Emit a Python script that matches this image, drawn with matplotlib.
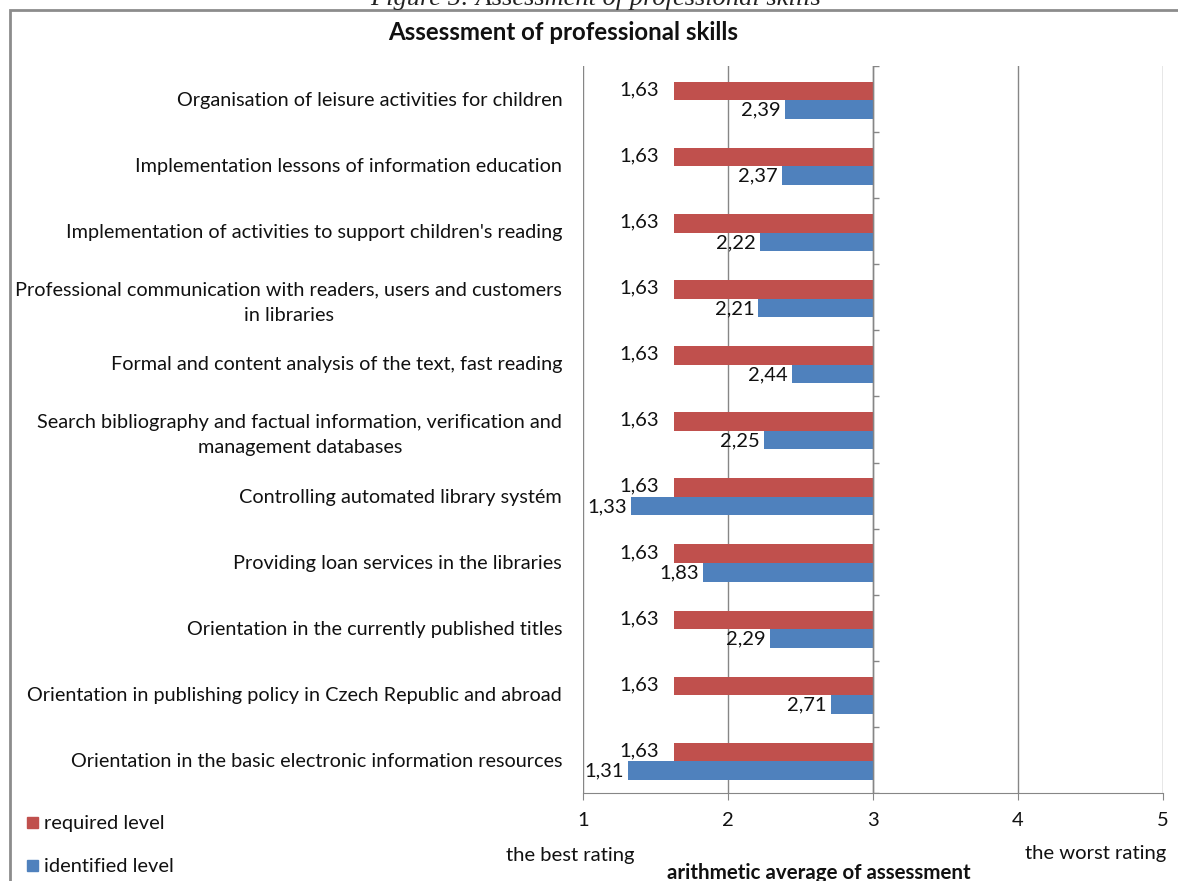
import matplotlib
matplotlib.use("Agg")
import matplotlib.pyplot as plt
from matplotlib.patches import Rectangle
import numpy as np

plt.rcParams['font.family'] = ['Lato', 'DejaVu Sans']

skills = [
    "Organisation of leisure activities for children",
    "Implementation lessons of information education",
    "Implementation of activities to support children's reading",
    "Professional communication with readers, users and customers\nin libraries",
    "Formal and content analysis of the text, fast reading",
    "Search bibliography and factual information, verification and\nmanagement databases",
    "Controlling automated library systém",
    "Providing loan services in the libraries",
    "Orientation in the currently published titles",
    "Orientation in publishing policy in Czech Republic and abroad",
    "Orientation in the basic electronic information resources",
]
required_level = [1.63, 1.63, 1.63, 1.63, 1.63, 1.63, 1.63, 1.63, 1.63, 1.63, 1.63]
identified_level = [2.39, 2.37, 2.22, 2.21, 2.44, 2.25, 1.33, 1.83, 2.29, 2.71, 1.31]
x_ticks = [1, 2, 3, 4, 5]

RED = "#C0504D"
BLUE = "#4F81BD"
GRID = "#868686"
TXT = "#111111"
W, H = 1178, 881

fig = plt.figure(figsize=(W / 100, H / 100), dpi=100)
ax = fig.add_axes([583 / W, 1 - 793 / H, 580 / W, 727 / H])

base = 3.0
y = np.arange(len(skills))
h = 0.28
req = np.array(required_level)
ide = np.array(identified_level)

ax.barh(y - h / 2 + 0.02, req - base, left=base, height=h, color=RED, zorder=3)
ax.barh(y + h / 2 + 0.02, ide - base, left=base, height=h, color=BLUE, zorder=3)

ax.set_xlim(1, 5)
ax.set_ylim(len(skills) - 0.5, -0.5)

# value labels, placed just left of each bar's end
lbl = dict(fontsize=14.5, color=TXT, ha="right", va="center", zorder=4)
for yi, v in zip(y, req):
    ax.annotate(f"{v:.2f}".replace(".", ","), (v, yi - h / 2),
                xytext=(-11, 0), textcoords="offset points", **lbl)
for yi, v in zip(y, ide):
    ax.annotate(f"{v:.2f}".replace(".", ","), (v, yi + h / 2 + 0.03),
                xytext=(-3, 0), textcoords="offset points", **lbl)

# grid and axis lines
for xv in x_ticks:
    ax.axvline(xv, color=GRID, lw=1, zorder=1)
ax.axvline(base, color=GRID, lw=1, zorder=5)
for b in np.arange(-0.5, len(skills) + 0.5, 1.0):
    ax.plot([base, base + 0.04], [b, b], color=GRID, lw=1, zorder=5,
            solid_capstyle="butt")

for s in ["top", "right", "left"]:
    ax.spines[s].set_visible(False)
ax.spines["bottom"].set_color(GRID)
ax.set_xticks(x_ticks)
ax.set_xticklabels([str(t) for t in x_ticks])
ax.tick_params(axis="x", length=5, color=GRID, labelsize=14.5, pad=9,
               labelcolor=TXT)
ax.set_yticks(y)
ax.set_yticklabels(skills, fontsize=14.3, color=TXT, ha="right",
                   multialignment="center", linespacing=1.55)
ax.tick_params(axis="y", length=0, pad=15)

# outer frame of the chart
fig.patches.append(Rectangle((10 / W, -0.1), 1.2, 1 - 10 / H + 0.1,
                             transform=fig.transFigure, fill=False,
                             edgecolor="#8c8c8c", lw=2))

fig.text(596 / W, 1 + 1 / H, "Figure 5: Assessment of professional skills",
         family="Liberation Serif", style="italic", fontsize=19,
         ha="center", va="center", color="#222222")
fig.text(563 / W, 1 - 32 / H, "Assessment of professional skills",
         fontsize=17.3, weight="bold", ha="center", va="center", color=TXT)

fig.text(570 / W, 1 - 856 / H, "the best rating", fontsize=14.6,
         ha="center", va="center", color=TXT)
fig.text(1096 / W, 1 - 853 / H, "the worst rating", fontsize=14.6,
         ha="center", va="center", color=TXT)
fig.text(819 / W, 1 - 873 / H, "arithmetic average of assessment", fontsize=14.8,
         weight="bold", ha="center", va="center", color=TXT)

# legend
for yy, col, name in [(823, RED, "required level"), (866, BLUE, "identified level")]:
    fig.patches.append(Rectangle((27 / W, 1 - (yy + 5) / H), 11 / W, 11 / H,
                                 transform=fig.transFigure, color=col))
    fig.text(44 / W, 1 - yy / H, name, fontsize=14.4, ha="left", va="center",
             color=TXT)

fig.savefig("out.png", dpi=100)
